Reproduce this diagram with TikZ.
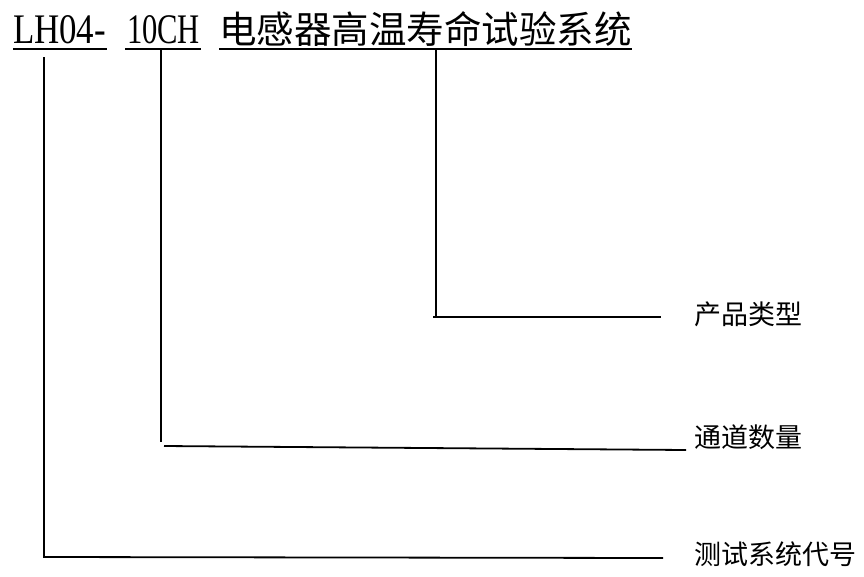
\documentclass[tikz,border=0pt]{standalone}
\usepackage{fontspec}
\usepackage{graphicx}
\newfontfamily\cjk{Noto Sans CJK SC}
\newfontfamily\lat{Liberation Serif}
\tikzset{
  titletext/.style={anchor=base west, inner sep=0pt, outer sep=0pt},
  labeltext/.style={anchor=base west, inner sep=0pt, outer sep=0pt, font=\cjk\fontsize{27pt}{30pt}\selectfont},
  uline/.style={line width=1.4pt},
  leader/.style={line width=1.8pt}
}
\begin{document}
\begin{tikzpicture}[x=1pt,y=-1pt]
\useasboundingbox (0,0) rectangle (864,576);
% title
\node[titletext] (t1) at (13,43) {\resizebox{93pt}{28pt}{\lat LH04-}};
\node[titletext] (t2) at (127,43) {\resizebox{73pt}{28pt}{\lat 10CH}};
\node[titletext, font=\cjk\fontsize{37.5pt}{40pt}\selectfont] (t3) at (219,43) {电感器高温寿命试验系统};
% underlines
\coordinate (u1a) at (13,49); \coordinate (u1b) at (107,49);
\coordinate (u2a) at (125,49); \coordinate (u2b) at (201,49);
\coordinate (u3a) at (219,49); \coordinate (u3b) at (632,49);
\draw[uline] (u1a) -- (u1b);
\draw[uline] (u2a) -- (u2b);
\draw[uline] (u3a) -- (u3b);
% labels
\node[labeltext] (l1) at (694,324) {产品类型};
\node[labeltext] (l2) at (694,447) {通道数量};
\node[labeltext] (l3) at (694,564) {测试系统代号};
% leaders
\coordinate (a0) at (436,49); \coordinate (a1) at (436,317); \coordinate (a2) at (433,317); \coordinate (a3) at (661,317);
\coordinate (b0) at (161,50); \coordinate (b1) at (161,442); \coordinate (b2) at (164,446); \coordinate (b3) at (686,450);
\coordinate (c0) at (44,57); \coordinate (c1) at (44,557); \coordinate (c2) at (663,558);
\draw[leader] (a0) -- (a1);
\draw[leader] (a2) -- (a3);
\draw[leader] (b0) -- (b1);
\draw[leader] (b2) -- (b3);
\draw[leader] (c0) -- (c1) -- (c2);
\end{tikzpicture}
\end{document}
